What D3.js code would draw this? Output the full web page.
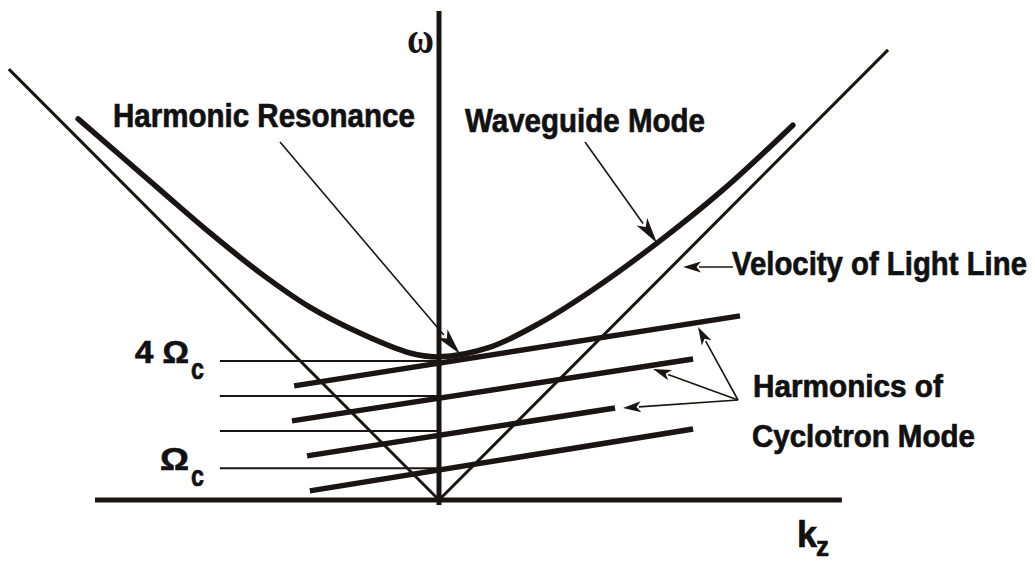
<!DOCTYPE html>
<html>
<head>
<meta charset="utf-8">
<script src="https://cdn.jsdelivr.net/npm/d3@7"></script>
<style>
  html, body { margin: 0; padding: 0; background: #fff; }
  svg { display: block; }
  .lbl { font-family: "Liberation Sans Narrow", "Arial Narrow", "Liberation Sans", Arial, sans-serif; font-weight: bold; fill: #111; stroke: #111; stroke-width: 0.7px; }
</style>
</head>
<body>
<svg id="chart" width="1035" height="563"></svg>
<script>
// ---------------- DATA (k in units, omega in units of ~Omega_c) ----------------
const waveguideK   = [-10.31, -7.97, -6.54, -5.11, -3.69, -2.26, -0.83, 0.00, 1.46, 2.89, 4.31, 6.23, 8.11, 10.11];
const waveguideW   = [ 10.89,  8.86,  7.63,  6.49,  5.51,  4.77,  4.20, 4.09, 4.37, 5.06, 5.95, 7.34, 8.86, 10.71];

const lightLineK   = [-12.29, 0, 12.83];
const lightLineW   = [ 12.31, 0, 12.86];

// harmonics of cyclotron mode: start/end (k, omega)
const harmonicNames = ["s=4", "s=3", "s=2", "s=1"];
const harmonicK0 = [-4.14, -4.20, -3.77, -3.69];
const harmonicW0 = [ 3.26,  2.26,  1.26,  0.26];
const harmonicK1 = [ 8.60,  7.26,  5.03,  7.26];
const harmonicW1 = [ 5.26,  4.03,  2.63,  2.03];

// horizontal reference levels (multiples of Omega_c) drawn to the omega axis
const levelW      = [3.97, 2.97, 1.97, 0.91];
const levelStartK = -6.26;

// tick labels
const tickLabels = ["4 Ω", "Ω"];
const tickSub    = ["c", "c"];
const tickLevels = [3.97, 0.91];

// axes extents
const kAxisRange = [-9.83, 11.51];
const wAxisRange = [-0.14, 13.97];

// ---------------- SCALES ----------------
const svg = d3.select("#chart");
svg.append("rect").attr("width", 1035).attr("height", 563).attr("fill", "#fff");

const x = d3.scaleLinear().domain([-12, 12]).range([439 - 35 * 12, 439 + 35 * 12]);
const y = d3.scaleLinear().domain([0, 14]).range([500, 10]);

const ink = "#1a1512";

// thin horizontal level lines
svg.append("g").selectAll("line").data(levelW).join("line")
  .attr("x1", x(levelStartK)).attr("x2", x(0))
  .attr("y1", d => y(d)).attr("y2", d => y(d))
  .attr("stroke", ink).attr("stroke-width", 2);

// light lines
const lightPts = lightLineK.map((k, i) => [k, lightLineW[i]]);
svg.append("path")
  .attr("d", d3.line().x(d => x(d[0])).y(d => y(d[1]))(lightPts))
  .attr("fill", "none").attr("stroke", ink).attr("stroke-width", 3)
  .attr("stroke-linejoin", "miter");

// axes
svg.append("line")
  .attr("x1", x(kAxisRange[0])).attr("x2", x(kAxisRange[1]))
  .attr("y1", y(0)).attr("y2", y(0))
  .attr("stroke", ink).attr("stroke-width", 5);
svg.append("line")
  .attr("x1", x(0)).attr("x2", x(0))
  .attr("y1", y(wAxisRange[0])).attr("y2", y(wAxisRange[1]))
  .attr("stroke", ink).attr("stroke-width", 5);

// harmonic lines
svg.append("g").selectAll("line").data(harmonicNames).join("line")
  .attr("x1", (d, i) => x(harmonicK0[i])).attr("y1", (d, i) => y(harmonicW0[i]))
  .attr("x2", (d, i) => x(harmonicK1[i])).attr("y2", (d, i) => y(harmonicW1[i]))
  .attr("stroke", ink).attr("stroke-width", 5.5);

// waveguide curve
const wgPts = waveguideK.map((k, i) => [k, waveguideW[i]]);
svg.append("path")
  .attr("d", d3.line().x(d => x(d[0])).y(d => y(d[1])).curve(d3.curveCatmullRom.alpha(0.5))(wgPts))
  .attr("fill", "none").attr("stroke", ink).attr("stroke-width", 5.5)
  .attr("stroke-linecap", "round");

// ---------------- ANNOTATIONS ----------------
function arrow(x0, y0, x1, y1, headLen, headW, sw) {
  const dx = x1 - x0, dy = y1 - y0, L = Math.hypot(dx, dy);
  const ux = dx / L, uy = dy / L;
  const bx = x1 - ux * headLen, by = y1 - uy * headLen;
  svg.append("line").attr("x1", x0).attr("y1", y0).attr("x2", bx + ux * 2).attr("y2", by + uy * 2)
    .attr("stroke", ink).attr("stroke-width", sw);
  const px = -uy * headW / 2, py = ux * headW / 2;
  svg.append("path")
    .attr("d", `M${x1},${y1}L${bx + px},${by + py}L${bx + ux * headLen * 0.25},${by + uy * headLen * 0.25}L${bx - px},${by - py}Z`)
    .attr("fill", ink);
}
arrow(280, 142, 460, 354, 27, 13, 1.6);   // Harmonic Resonance
arrow(585, 142, 657, 243, 26, 13, 1.6);   // Waveguide Mode
arrow(733, 267, 683, 267, 18, 11, 1.6);   // Velocity of Light Line
arrow(738, 400, 698, 327, 18, 11, 1.6);   // Harmonics (top)
arrow(738, 400, 653, 369, 18, 11, 1.6);   // Harmonics (middle)
arrow(738, 400, 623, 408, 18, 11, 1.6);   // Harmonics (lower)

// text fitted to a target width with a horizontal scale transform
function label(txt, x0, yb, w, size, cls, family) {
  const t = svg.append("text")
    .attr("x", 0).attr("y", 0)
    .attr("font-size", size)
    .text(txt);
  if (cls) t.attr("class", cls);
  if (family) t.attr("font-family", family).attr("font-weight", "bold").attr("fill", ink);
  const nat = t.node().getComputedTextLength();
  const sx = w / nat;
  t.attr("transform", `translate(${x0},${yb}) scale(${sx},1)`);
  return t;
}
label("Harmonic Resonance", 113, 127, 302, 33, "lbl");
label("Waveguide Mode", 465, 132, 240, 34, "lbl");
label("Velocity of Light Line", 732, 275, 295, 34, "lbl");
label("Harmonics of", 753, 397, 190, 31, "lbl");
label("Cyclotron Mode", 752, 447, 223, 31, "lbl");

// omega axis label
label("ω", 407, 53, 27, 44, null, "'Liberation Serif', 'DejaVu Serif', serif");

// k_z label
label("k", 797, 547, 20, 36, "lbl");
label("z", 816, 556, 13, 28, "lbl");

// tick labels (4 Ωc, Ωc)
const tickX = [135, 160];
const tickW = [54, 29];
tickLabels.forEach((t, i) => {
  const yb = y(tickLevels[i]) + 2;
  label(t, tickX[i], yb, tickW[i], 31, "lbl");
  label(tickSub[i], tickX[i] + tickW[i] + 2, yb + 16, 13, 29, "lbl");
});
</script>
</body>
</html>
